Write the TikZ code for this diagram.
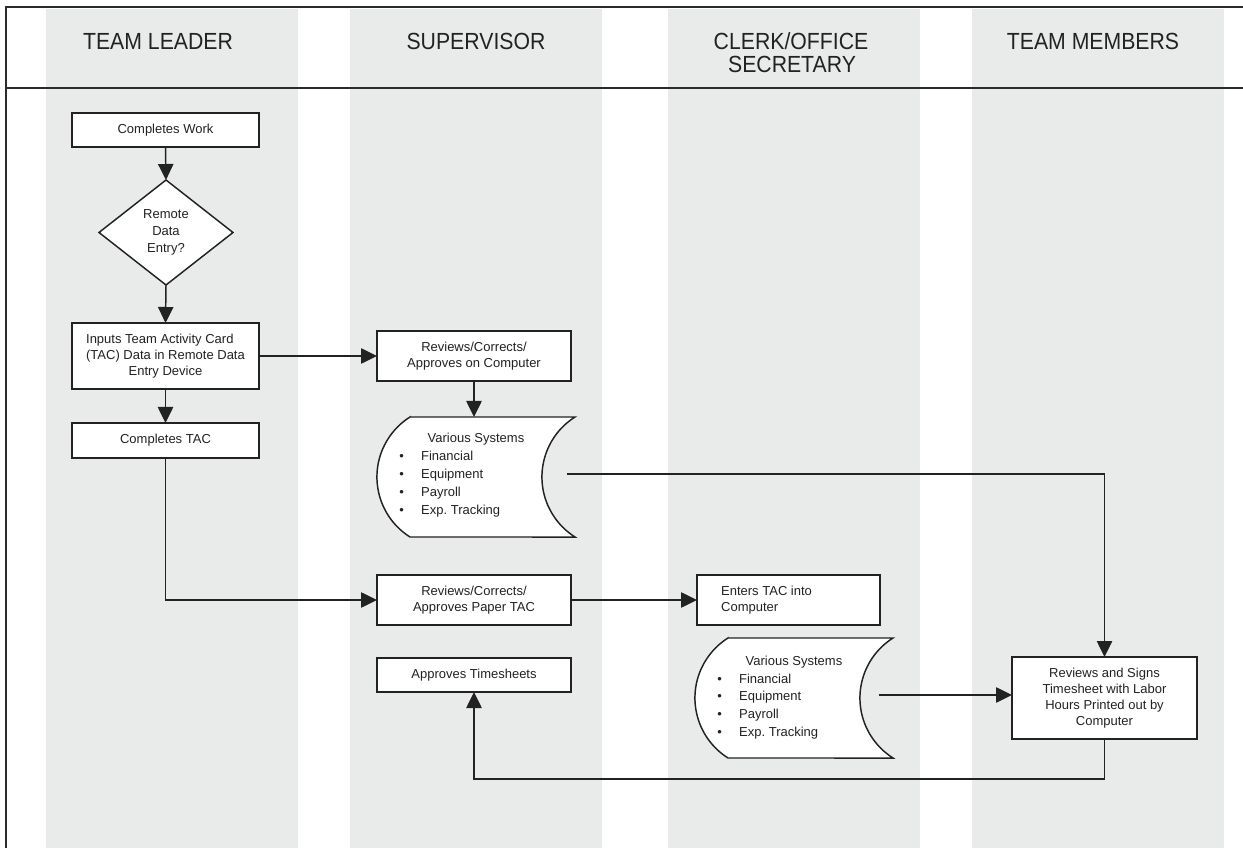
\documentclass[tikz,border=0pt]{standalone}
\usepackage{fontspec}
\setmainfont{Liberation Sans}
\newfontfamily\lanefont[FakeStretch=0.91]{Liberation Sans}
\usetikzlibrary{shapes.geometric,arrows.meta,calc}
\definecolor{lanegray}{HTML}{E9EAEA}
\definecolor{ink}{HTML}{222222}
\definecolor{rulecol}{HTML}{2B2B2B}
\frenchspacing
\begin{document}
\begin{tikzpicture}[x=0.75pt,y=-0.75pt,
  lane/.style={fill=lanegray, draw=none},
  lanetitle/.style={text=ink, font=\lanefont\fontsize{17.5}{17.5}\selectfont, anchor=base, align=center, inner sep=0pt},
  procbox/.style={draw=ink, line width=1.1pt, fill=white, rectangle, inner sep=2pt, outer sep=0pt,
    text=ink, font=\fontsize{9.75}{12}\selectfont, align=center},
  decision/.style={procbox, diamond, inner sep=0pt, font=\fontsize{9.75}{12.75}\selectfont},
  flow/.style={draw=ink, line width=1.1pt, -{Triangle[length=12pt,width=11.5pt]}},
  plainline/.style={draw=ink, line width=1.1pt},
  framerule/.style={draw=rulecol, line width=1.9pt},
  storearea/.style={rectangle, inner sep=0pt, outer sep=0pt, minimum width=148.5pt, minimum height=90pt},
  storeedge/.style={draw=ink, line width=1.1pt, fill=white},
  storetext/.style={text=ink, font=\fontsize{9.75}{13.3}\selectfont, inner sep=0pt}
]
\useasboundingbox (0,0) rectangle (1243,848);

% swim lanes
\fill[lane] (46,9) rectangle (298,848);
\fill[lane] (350,9) rectangle (602,848);
\fill[lane] (668,9) rectangle (920,848);
\fill[lane] (972,9) rectangle (1224,848);

% outer frame and header rule
\draw[framerule] (5,7) -- (1243,7);
\draw[framerule] (6,7) -- (6,848);
\draw[framerule] (5,88) -- (1243,88);

% lane titles
\node[lanetitle] (h1) at (158,50) {TEAM LEADER};
\node[lanetitle] (h2) at (476,50) {SUPERVISOR};
\node[lanetitle] (h3) at (791,50) {CLERK/OFFICE};
\node[lanetitle] (h3b) at (792,73) {SECRETARY};
\node[lanetitle] (h4) at (1093,50) {TEAM MEMBERS};

% team leader
\node[procbox, minimum width=140.25pt, minimum height=25.5pt] (cw) at (165.5,130) {Completes Work};
\node[decision, minimum width=100.5pt, minimum height=78.75pt] (rde) at (166,232.5) {Remote\\Data\\Entry?};
\node[procbox, minimum width=140.25pt, minimum height=49.5pt] (inp) at (165.5,356)
  {\begin{tabular}{@{}l@{}}Inputs Team Activity Card\\(TAC) Data in Remote Data\\\multicolumn{1}{@{}c@{}}{Entry Device}\end{tabular}};
\node[procbox, minimum width=140.25pt, minimum height=26.25pt] (ctac) at (165.5,440.5) {Completes TAC};

% supervisor
\node[procbox, minimum width=145.5pt, minimum height=37.5pt] (rcomp) at (474,356) {Reviews/Corrects/\\Approves on Computer};
\node[storearea] (vs1) at (476,477) {};
\path[storeedge] ($(vs1.north west)+(33,0)$) -- (vs1.north east)
  arc[start angle=-122.3, end angle=-237.7, radius=71]
  -- ($(vs1.south west)+(33,0)$)
  arc[start angle=122.3, end angle=237.7, radius=71] -- cycle;
\node[storetext, anchor=base] (vs1title) at ($(vs1.north)+(0,26)$) {Various Systems};
\node[storetext, anchor=base west] (vs1list) at ($(vs1.north west)+(22,44)$)
  {\begin{tabular}[t]{@{}l@{\hspace{13pt}}l@{}}\textbullet & Financial\\\textbullet & Equipment\\\textbullet & Payroll\\\textbullet & Exp. Tracking\end{tabular}};
\node[procbox, minimum width=145.5pt, minimum height=37.5pt] (rpaper) at (474,600) {Reviews/Corrects/\\Approves Paper TAC};
\node[procbox, minimum width=145.5pt, minimum height=25.5pt] (appr) at (474,675) {Approves Timesheets};

% clerk / office secretary
\node[procbox, minimum width=137.25pt, minimum height=37.5pt, align=left] (enter) at (788.5,600)
  {\makebox[101pt][l]{Enters TAC into}\\Computer};
\node[storearea] (vs2) at (794,698) {};
\path[storeedge] ($(vs2.north west)+(33,0)$) -- (vs2.north east)
  arc[start angle=-122.3, end angle=-237.7, radius=71]
  -- ($(vs2.south west)+(33,0)$)
  arc[start angle=122.3, end angle=237.7, radius=71] -- cycle;
\node[storetext, anchor=base] (vs2title) at ($(vs2.north)+(0,27)$) {Various Systems};
\node[storetext, anchor=base west] (vs2list) at ($(vs2.north west)+(22,45)$)
  {\begin{tabular}[t]{@{}l@{\hspace{13pt}}l@{}}\textbullet & Financial\\\textbullet & Equipment\\\textbullet & Payroll\\\textbullet & Exp. Tracking\end{tabular}};

% team members
\node[procbox, minimum width=138.75pt, minimum height=61.5pt] (rsign) at (1104.5,698)
  {Reviews and Signs\\Timesheet with Labor\\Hours Printed out by\\Computer};

% connector end points on the stored-data shapes
\coordinate (vs1out) at ($(vs1.east)+(-8,-3)$);
\coordinate (vs2out) at ($(vs2.east)+(-14,-3)$);

% connectors
\draw[flow] (cw.south) -- (rde.north);
\draw[flow] (rde.south) -- (inp.north);
\draw[flow] (inp.south) -- (ctac.north);
\draw[flow] (inp.east) -- (rcomp.west);
\draw[flow] (rcomp.south) -- (rcomp.south |- vs1.north);
\draw[flow] (ctac.south) |- (rpaper.west);
\draw[flow] (rpaper.east) -- (enter.west);
\draw[flow] (vs1out) -| (rsign.north);
\draw[flow] (vs2out) -- (vs2out -| rsign.west);
\draw[flow] (rsign.south) -- ++(0,40) -| (appr.south);
\end{tikzpicture}
\end{document}
